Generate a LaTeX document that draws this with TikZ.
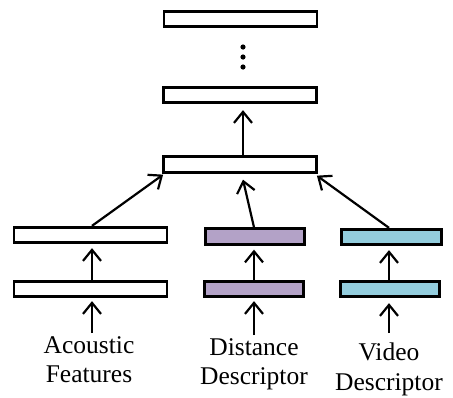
\documentclass[tikz,border=0pt]{standalone}
\usepackage{fontspec}
\setmainfont{Liberation Serif}
\usetikzlibrary{arrows.meta,calc}
\definecolor{lav}{HTML}{B3A2C7}
\definecolor{aqua}{HTML}{93CDDD}
\tikzset{
  layer/.style={draw=black, line width=2.8pt, minimum height=15.5pt, inner sep=0pt},
  wide/.style={layer, minimum width=153pt},
  narrow/.style={layer, minimum width=99.5pt},
  conn/.style={line width=2.2pt, -{Straight Barb[length=11pt,width=18pt,line width=2.2pt]}},
  lbl/.style={font=\fontsize{25.5}{29.5}\selectfont, align=center, inner sep=0pt, anchor=north}
}
\begin{document}
\begin{tikzpicture}[x=1pt,y=-1pt]
\useasboundingbox (0,0) rectangle (453,397);
% top stack
\node[wide] (top) at (240.5,19) {};
\node[wide] (mid) at (240,95) {};
\node[wide] (fus) at (240,164.5) {};
\fill (243,47) circle (2.6) (243,57) circle (2.6) (243,67) circle (2.6);
% acoustic
\node[wide] (a2) at (90.5,235) {};
\node[wide] (a1) at (90.5,289) {};
% distance
\node[narrow, fill=lav] (d2) at (255,236.5) {};
\node[narrow, fill=lav] (d1) at (254,289) {};
% video
\node[narrow, fill=aqua] (v2) at (391.5,237) {};
\node[narrow, fill=aqua] (v1) at (390,289) {};
% labels
\node[lbl] (la) at (89,336) {Acoustic\\Features};
\node[lbl] (ld) at (254,338) {Distance\\Descriptor};
\node[lbl] (lv) at (389,343) {Video\\Descriptor};
% arrows
\draw[conn] (fus.north -| 243,0) -- ($(mid.south)+(3,6)$);
\draw[conn] (a2.north -| 92,0) -- ($(fus.south west)+(1,1)$);
\draw[conn] (d2.north -| 254,0) -- ($(fus.south)+(3,6)$);
\draw[conn] (v2.north -| 389,0) -- ($(fus.south east)+(-1,2)$);
\draw[conn] (a1.north -| 92,0) -- ($(a2.south -| 92,0)+(0,4)$);
\draw[conn] (d1.north -| 254,0) -- ($(d2.south -| 254,0)+(0,4)$);
\draw[conn] (v1.north -| 389,0) -- ($(v2.south -| 389,0)+(0,4)$);
\draw[conn] ($(la.north)+(3,-3)$) -- ($(a1.south -| 92,0)+(0,3)$);
\draw[conn] ($(ld.north)+(0,-3)$) -- ($(d1.south -| 254,0)+(0,3)$);
\draw[conn] ($(lv.north)+(0,-10)$) -- ($(v1.south -| 389,0)+(0,5)$);
\end{tikzpicture}
\end{document}
